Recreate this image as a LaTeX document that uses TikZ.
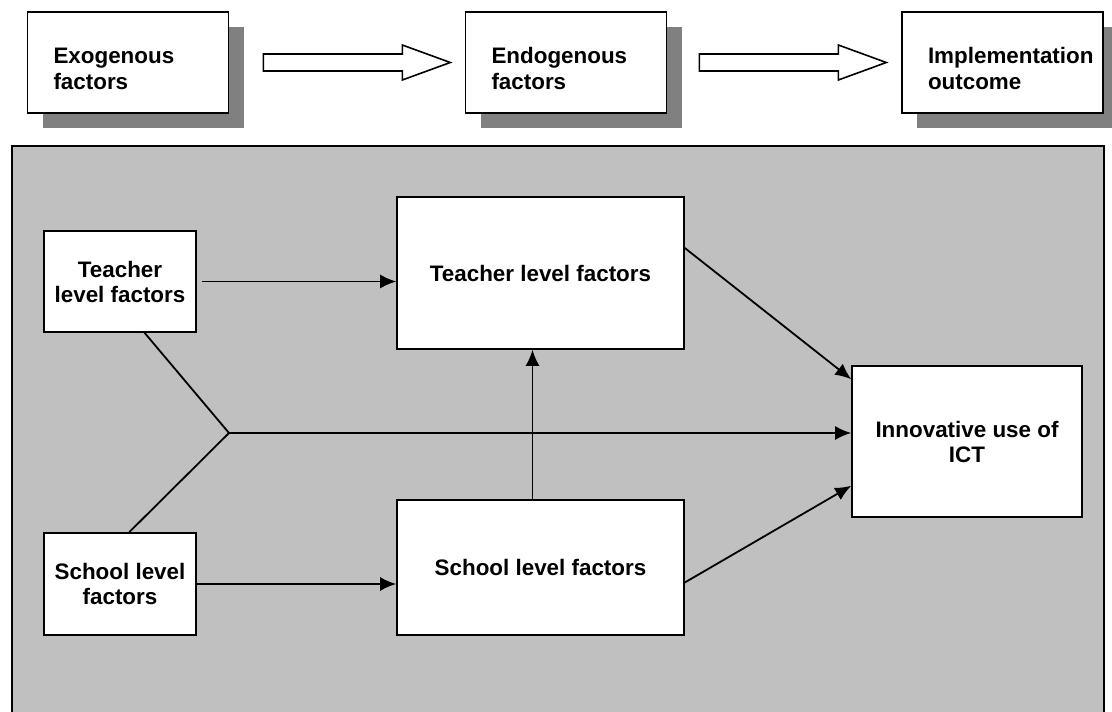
\documentclass[tikz,border=0pt]{standalone}
\usepackage{fontspec}
\setmainfont{Liberation Sans}
\usepackage{xcolor}
\usepackage{tikz}
\usetikzlibrary{arrows.meta,positioning,shadows,calc}
\definecolor{panelgray}{RGB}{192,192,192}
\definecolor{shadowgray}{RGB}{128,128,128}

\begin{document}
\begin{tikzpicture}[>={Latex[length=16pt,width=14pt]},x=1pt,y=-1pt,
every node/.style={font=\bfseries\fontsize{22.4}{25}\selectfont},
box/.style={draw,line width=1.6pt,fill=white,inner sep=0pt},
topbox/.style={box,minimum width=201pt,minimum height=101pt,text width=149pt,align=left,
  font=\bfseries\fontsize{22.4}{26.5}\selectfont,execute at begin node=\rule{0pt}{28pt},
  drop shadow={shadow xshift=15pt,shadow yshift=-15pt,fill=shadowgray,opacity=1}},
inbox/.style={box,align=center},
link/.style={->,line width=1.8pt},
fatarrow/.style={draw,line width=1.6pt,fill=white,line join=miter}]
\useasboundingbox (0,0) rectangle (1112,712);

\node[topbox] (exo) at (128,62.5) {Exogenous\\factors};
\node[topbox] (endo) at (566,62.5) {Endogenous\\factors};
\node[topbox] (impl) at (1002.5,62.5) {Implementation\\outcome};

\coordinate (ba1) at ([xshift=34pt]exo.east);
\coordinate (ba2) at ([xshift=32pt]endo.east);
\foreach \s in {ba1,ba2}
  \draw[fatarrow] (\s) ++(0,-8.5) -- ++(139,0) -- ++(0,-9) -- ++(48,17.5)
    -- ++(-48,17.5) -- ++(0,-9) -- ++(-139,0) -- cycle;

\draw[line width=1.8pt,fill=panelgray] (12,146) rectangle (1104,730);

\node[inbox,minimum width=152pt,minimum height=101pt] (tlev) at (120,281.5) {Teacher\\level factors};
\node[inbox,minimum width=152pt,minimum height=102pt] (slev) at (120,584) {School level\\factors};
\node[inbox,minimum width=287pt,minimum height=152pt] (tfac) at (540.5,273) {Teacher level factors};
\node[inbox,minimum width=287pt,minimum height=135pt] (sfac) at (540.5,567.5) {School level factors};
\node[inbox,minimum width=230pt,minimum height=151pt] (ict) at (967,441.5) {Innovative use of\\ICT};

\coordinate (junc) at (229,433);

\draw[link,shorten <=5pt] (tlev.east) -- (tlev.east -| tfac.west);
\draw[link] (slev.east) -- (slev.east -| sfac.west);
\draw[line width=1.8pt] ($(tlev.south west)!0.66!(tlev.south east)$) -- (junc);
\draw[line width=1.8pt] ($(slev.north west)!0.56!(slev.north east)$) -- (junc);
\draw[link] (junc) -- (junc -| ict.west);
\draw[link] ([xshift=-8pt]sfac.north) -- ([xshift=-8pt]tfac.south);
\draw[link] ([yshift=25pt]tfac.east) -- ([yshift=-14pt]ict.north west);
\draw[link] ([yshift=-15pt]sfac.east) -- ([yshift=32pt]ict.south west);
\end{tikzpicture}
\end{document}
